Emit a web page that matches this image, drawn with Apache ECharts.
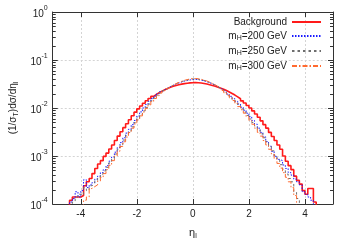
<!DOCTYPE html>
<html>
<head>
<meta charset="utf-8">
<script src="https://cdn.jsdelivr.net/npm/echarts@6/dist/echarts.min.js"></script>
<style>html,body{margin:0;padding:0;background:#fff;}#c{width:350px;height:245px;}</style>
</head>
<body>
<div id="c"></div>
<script>
// bin centres of eta_l (bin width 0.1)
const etaCenters = [-4.45,-4.35,-4.25,-4.15,-4.05,-3.95,-3.85,-3.75,-3.65,-3.55,-3.45,-3.35,-3.25,-3.15,-3.05,-2.95,-2.85,-2.75,-2.65,-2.55,-2.45,-2.35,-2.25,-2.15,-2.05,-1.95,-1.85,-1.75,-1.65,-1.55,-1.45,-1.35,-1.25,-1.15,-1.05,-0.95,-0.85,-0.75,-0.65,-0.55,-0.45,-0.35,-0.25,-0.15,-0.05,
0.05,0.15,0.25,0.35,0.45,0.55,0.65,0.75,0.85,0.95,1.05,1.15,1.25,1.35,1.45,1.55,1.65,1.75,1.85,1.95,2.05,2.15,2.25,2.35,2.45,2.55,2.65,2.75,2.85,2.95,3.05,3.15,3.25,3.35,3.45,3.55,3.65,3.75,3.85,3.95,4.05,4.15,4.25,4.35,4.45];

const background = [0,0.00012,0.00014,0.00014,0.00014,0.00015,0.00024,0.00029,0.00034,0.00043,0.00055,0.00068,0.00080,0.00098,0.00115,0.00140,0.00170,0.00210,0.00260,0.00320,0.00390,0.00470,0.00570,0.00690,0.00820,0.00960,0.01100,0.01260,0.01420,0.01580,0.01750,0.01920,0.02090,0.02250,0.02410,0.02560,0.02700,0.02830,0.02950,0.03050,0.03140,0.03220,0.03290,0.03340,0.03370,
0.03380,0.03360,0.03310,0.03240,0.03160,0.03060,0.02950,0.02840,0.02720,0.02590,0.02450,0.02310,0.02160,0.02010,0.01860,0.01710,0.01560,0.01410,0.01270,0.01130,0.01000,0.00870,0.00750,0.00640,0.00540,0.00450,0.00380,0.00310,0.00255,0.00210,0.00170,0.00138,0.00100,0.00078,0.00063,0.00052,0.00038,0.00031,0.00026,0.00019,0.00016,0.00021,0.00021,0.00011,0];

const mH200 = [0,0.00011,0.00013,0.00018,0.00014,0.00019,0.00032,0.00022,0.00025,0.00028,0.00033,0.00038,0.00045,0.00052,0.00063,0.00078,0.00095,0.00120,0.00150,0.00190,0.00240,0.00300,0.00360,0.00450,0.00550,0.00680,0.00830,0.01000,0.01180,0.01380,0.01570,0.01770,0.01970,0.02180,0.02390,0.02590,0.02790,0.02980,0.03160,0.03330,0.03480,0.03620,0.03740,0.03840,0.03900,
0.03950,0.03900,0.03800,0.03680,0.03520,0.03360,0.03180,0.02990,0.02790,0.02580,0.02370,0.02160,0.01950,0.01750,0.01560,0.01380,0.01210,0.01040,0.00900,0.00780,0.00660,0.00550,0.00460,0.00380,0.00310,0.00250,0.00200,0.00160,0.00125,0.00098,0.00085,0.00080,0.00065,0.00055,0.00045,0.00040,0.00033,0.00029,0.00025,0.00018,0.00016,0.00014,0.00012,0,0];

const mH250 = [0,0,0.00011,0.00014,0.00016,0.00015,0.00022,0.00019,0.00024,0.00026,0.00031,0.00036,0.00042,0.00049,0.00058,0.00072,0.00088,0.00110,0.00138,0.00172,0.00215,0.00268,0.00330,0.00405,0.00495,0.00600,0.00725,0.00870,0.01030,0.01210,0.01410,0.01620,0.01840,0.02070,0.02300,0.02530,0.02760,0.02980,0.03190,0.03380,0.03550,0.03710,0.03840,0.03950,0.04020,
0.04030,0.03980,0.03880,0.03750,0.03590,0.03410,0.03210,0.03000,0.02780,0.02550,0.02320,0.02090,0.01870,0.01660,0.01460,0.01280,0.01110,0.00960,0.00820,0.00700,0.00590,0.00500,0.00420,0.00350,0.00290,0.00240,0.00195,0.00158,0.00128,0.00103,0.00082,0.00066,0.00053,0.00042,0.00034,0.00029,0.00018,0.00013,0,0,0,0,0,0,0];

const mH300 = [0,0,0,0,0,0,0.00012,0.00014,0.00021,0.00023,0.00025,0.00030,0.00036,0.00043,0.00052,0.00064,0.00080,0.00100,0.00126,0.00158,0.00198,0.00248,0.00308,0.00380,0.00465,0.00565,0.00685,0.00825,0.00985,0.01165,0.01365,0.01580,0.01810,0.02050,0.02290,0.02530,0.02770,0.03000,0.03220,0.03420,0.03600,0.03770,0.03910,0.04030,0.04110,
0.04120,0.04060,0.03960,0.03820,0.03650,0.03460,0.03250,0.03030,0.02800,0.02560,0.02320,0.02080,0.01850,0.01630,0.01430,0.01240,0.01070,0.00920,0.00780,0.00660,0.00550,0.00460,0.00380,0.00310,0.00260,0.00210,0.00170,0.00138,0.00110,0.00088,0.00070,0.00056,0.00045,0.00036,0.00029,0.00022,0.00015,0,0,0,0,0,0,0,0];

const seriesNames = ['Background', 'mH=200 GeV', 'mH=250 GeV', 'mH=300 GeV'];
const legendLabels = {
  'Background': '{n|Background}',
  'mH=200 GeV': '{n|m}{s|H}{n|=200 GeV}',
  'mH=250 GeV': '{n|m}{s|H}{n|=250 GeV}',
  'mH=300 GeV': '{n|m}{s|H}{n|=300 GeV}'
};
const yMinorTicks = [0.0002,0.0003,0.0004,0.0005,0.0006,0.0007,0.0008,0.0009,
  0.002,0.003,0.004,0.005,0.006,0.007,0.008,0.009,
  0.02,0.03,0.04,0.05,0.06,0.07,0.08,0.09,
  0.2,0.3,0.4,0.5,0.6,0.7,0.8,0.9];

const FLOOR = 1e-6; // empty bins drawn below the axis minimum
function pairs(vals){ return etaCenters.map((x,i)=>[x, vals[i] > 0 ? vals[i] : FLOOR]); }

const FONT = 'Liberation Sans';
const chart = echarts.init(document.getElementById('c'), null, {renderer:'canvas'});
const sty = [
  {color:'#ff1a1a', width:1.6, type:'solid'},
  {color:'#1a1aff', width:1, type:[1.5,1.5]},
  {color:'#6e6e6e', width:1, type:[2.5,3]},
  {color:'#ff6a30', width:1, type:[5,2,1.5,2]}
];
const vals = [background, mH200, mH250, mH300];

const series = vals.map((v,i)=>({
  name: seriesNames[i], type:'line', step:'middle', data: pairs(v),
  xAxisIndex:0, yAxisIndex:0, symbol:'none', showSymbol:false, clip:true,
  lineStyle:{color:sty[i].color, width:sty[i].width, type:sty[i].type},
  itemStyle:{color:sty[i].color}, animation:false, z:2+i
}));
series.push({
  type:'custom', xAxisIndex:0, yAxisIndex:0, silent:true, animation:false, clip:false, z:10,
  data: yMinorTicks.map(v=>[-5, v]),
  renderItem: function(params, api){
    const v = api.value(1);
    const pL = api.coord([-5, v]);
    const pR = api.coord([5, v]);
    const y = Math.round(pL[1]) + 0.5;
    return {type:'group', children:[
      {type:'line', shape:{x1:pL[0], y1:y, x2:pL[0]+3, y2:y}, style:{stroke:'#333', lineWidth:1}},
      {type:'line', shape:{x1:pR[0]-3, y1:y, x2:pR[0], y2:y}, style:{stroke:'#333', lineWidth:1}}
    ]};
  }
});

const axisLineStyle = {show:true, onZero:false, lineStyle:{color:'#333', width:1}};
chart.setOption({
  backgroundColor:'#fff',
  animation:false,
  textStyle:{fontFamily:FONT},
  grid:{left:44, right:17, top:12, bottom:39, containLabel:false},
  legend:{
    data: seriesNames, orient:'vertical', right:28, top:17, align:'right',
    padding:0, itemGap:4, itemWidth:29, itemHeight:10,
    itemStyle:{opacity:0, borderWidth:0},
    formatter: name => legendLabels[name],
    textStyle:{fontFamily:FONT, color:'#222', fontSize:10, rich:{
      n:{fontFamily:FONT, fontSize:10, color:'#222', lineHeight:12},
      s:{fontFamily:FONT, fontSize:7, color:'#222', lineHeight:12, verticalAlign:'bottom', padding:[4,0,0,0]}
    }}
  },
  xAxis:[{
    type:'value', min:-5, max:5, splitNumber:5,
    axisLine:axisLineStyle, axisTick:{inside:true, length:5, lineStyle:{color:'#333'}},
    axisLabel:{fontFamily:FONT, fontSize:10, color:'#222', margin:5, showMinLabel:false, showMaxLabel:false},
    splitLine:{show:true, lineStyle:{color:'#d4d4d4', type:[2,2], width:1}},
    name:'{n|η}{s|l}', nameLocation:'middle', nameGap:22,
    nameTextStyle:{fontFamily:FONT, fontSize:10, color:'#222', rich:{
      n:{fontFamily:FONT, fontSize:11, color:'#222', lineHeight:14},
      s:{fontFamily:FONT, fontSize:7, color:'#222', lineHeight:14, verticalAlign:'bottom', padding:[4,0,0,0]}
    }}
  },{
    type:'value', min:-5, max:5, splitNumber:5, position:'top',
    axisLine:axisLineStyle, axisTick:{inside:true, length:5, lineStyle:{color:'#333'}},
    axisLabel:{show:false}, splitLine:{show:false}
  }],
  yAxis:[{
    type:'log', logBase:10, min:0.0001, max:1,
    axisLine:axisLineStyle, axisTick:{inside:true, length:5, lineStyle:{color:'#333'}},
    minorTick:{show:false},
    axisLabel:{fontFamily:FONT, color:'#222', margin:5,
      formatter: v => '{b|10}{e|' + Math.round(Math.log10(v)) + '}',
      rich:{
        b:{fontFamily:FONT, fontSize:10, color:'#222', lineHeight:14, verticalAlign:'bottom'},
        e:{fontFamily:FONT, fontSize:7, color:'#222', lineHeight:14, verticalAlign:'top', padding:[0,0,4,0]}
      }},
    splitLine:{show:true, lineStyle:{color:'#d4d4d4', type:[2,2], width:1}},
    name:'{n|(1/σ}{s|T}{n|)dσ/dη}{s|l}', nameLocation:'middle', nameGap:32, nameRotate:90,
    nameTextStyle:{fontFamily:FONT, fontSize:10, color:'#222', rich:{
      n:{fontFamily:FONT, fontSize:10, color:'#222', lineHeight:13},
      s:{fontFamily:FONT, fontSize:7, color:'#222', lineHeight:13, verticalAlign:'bottom', padding:[4,0,0,0]}
    }}
  },{
    type:'log', logBase:10, min:0.0001, max:1, position:'right',
    axisLine:axisLineStyle, axisTick:{inside:true, length:5, lineStyle:{color:'#333'}},
    axisLabel:{show:false}, splitLine:{show:false}
  }],
  series: series
});
</script>
</body>
</html>
